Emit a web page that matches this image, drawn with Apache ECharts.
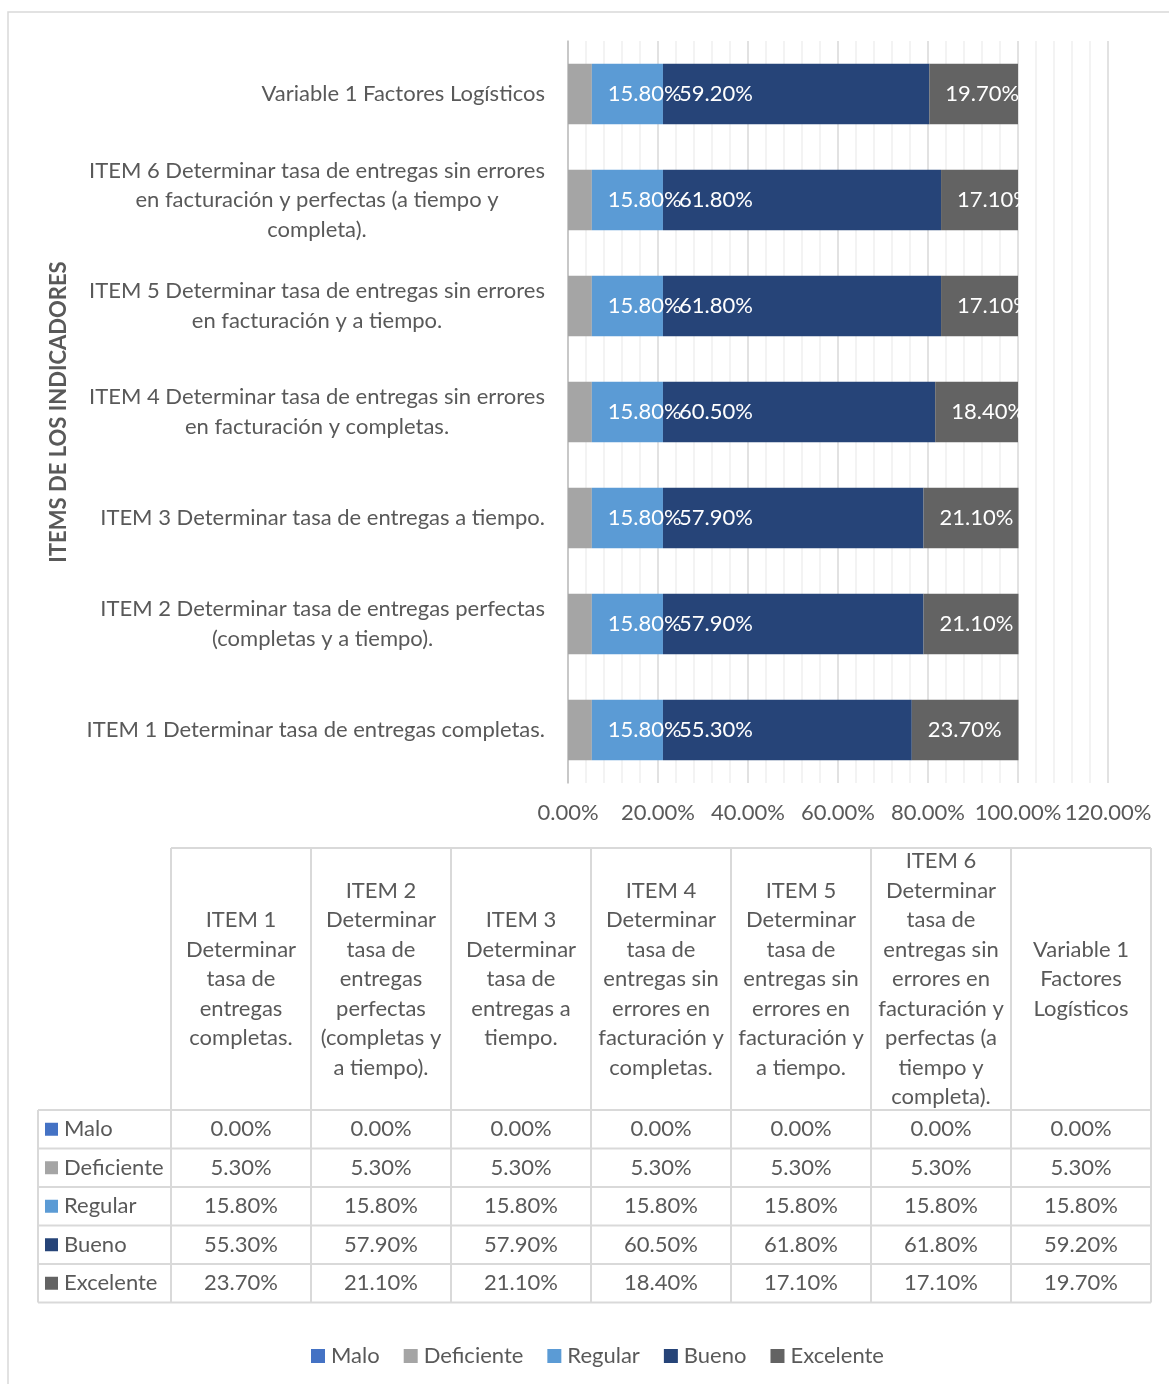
<!DOCTYPE html>
<html>
<head>
<meta charset="utf-8">
<script src="https://cdn.jsdelivr.net/npm/echarts@6/dist/echarts.min.js"></script>
<style>
  html, body { margin: 0; padding: 0; background: #fff; }
  #chart { width: 1169px; height: 1384px; }
</style>
</head>
<body>
<div id="chart"></div>
<script>
// datos (orden de Excel: ITEM 1 abajo, Variable 1 arriba)
const categories = [
  "ITEM 1 Determinar tasa de entregas completas.",
  "ITEM 2 Determinar tasa de entregas perfectas (completas y a tiempo).",
  "ITEM 3 Determinar tasa de entregas a tiempo.",
  "ITEM 4 Determinar tasa de entregas sin errores en facturación y completas.",
  "ITEM 5 Determinar tasa de entregas sin errores en facturación y a tiempo.",
  "ITEM 6 Determinar tasa de entregas sin errores en facturación y perfectas (a tiempo y completa).",
  "Variable 1 Factores Logísticos"
];
const seriesNames = ["Malo", "Deficiente", "Regular", "Bueno", "Excelente"];
const malo = [0, 0, 0, 0, 0, 0, 0];
const deficiente = [5.3, 5.3, 5.3, 5.3, 5.3, 5.3, 5.3];
const regular = [15.8, 15.8, 15.8, 15.8, 15.8, 15.8, 15.8];
const bueno = [55.3, 57.9, 57.9, 60.5, 61.8, 61.8, 59.2];
const excelente = [23.7, 21.1, 21.1, 18.4, 17.1, 17.1, 19.7];
const xTicks = [0, 20, 40, 60, 80, 100, 120];

const colors = ["#4472C4", "#A5A5A5", "#5B9BD5", "#264478", "#636363"];
const FONT = "Lato";
const FS = 22;
const TEXT = "#595959";
const LINE = "#d9d9d9";
const pct = (v) => v.toFixed(2) + "%";

// medir texto para partir lineas como Excel
const ctx = document.createElement("canvas").getContext("2d");
function textWidth(s, size) {
  ctx.font = size + "px " + FONT;
  return ctx.measureText(s).width;
}
function wrap(s, limit, size) {
  const words = s.split(" ");
  const lines = [];
  let cur = "";
  for (const w of words) {
    const t = cur ? cur + " " + w : w;
    if (cur && textWidth(t, size) > limit) {
      lines.push(cur);
      cur = w;
    } else {
      cur = t;
    }
  }
  if (cur) lines.push(cur);
  return lines;
}

const labelLimit = textWidth(categories[0], FS) + 1;
const scale = labelLimit / 463;
const axisLines = categories.map((c) => wrap(c, labelLimit, FS));
const rich = {};
axisLines.forEach((lines, i) => {
  rich["c" + i] = {
    width: Math.max(...lines.map((l) => textWidth(l, FS))),
    align: "center",
    fontSize: FS,
    lineHeight: 29.5,
    color: TEXT,
    fontFamily: FONT
  };
});

// tabla de datos
const tableLeft = 38, firstCol = 171, colW = 140;
const headTop = 848, headBottom = 1110, rowH = 38.5;
const tableRight = firstCol + colW * categories.length;
const rows = [malo, deficiente, regular, bueno, excelente];
const graphics = [];

graphics.push({
  type: "rect", silent: true, z: -1,
  shape: { x: 8, y: 12, width: 1300, height: 1500 },
  style: { fill: "none", stroke: LINE, lineWidth: 1.5 }
});

// lineas de la tabla
const tableBottom = headBottom + rowH * rows.length;
graphics.push({ type: "line", shape: { x1: firstCol, y1: headTop, x2: tableRight, y2: headTop }, style: { stroke: LINE, lineWidth: 2 } });
for (let r = 0; r <= rows.length; r++) {
  const y = headBottom + rowH * r;
  graphics.push({ type: "line", shape: { x1: tableLeft, y1: y, x2: tableRight, y2: y }, style: { stroke: LINE, lineWidth: 2 } });
}
graphics.push({ type: "line", shape: { x1: tableLeft, y1: headBottom, x2: tableLeft, y2: tableBottom }, style: { stroke: LINE, lineWidth: 2 } });
for (let c = 0; c <= categories.length; c++) {
  const x = firstCol + colW * c;
  graphics.push({ type: "line", shape: { x1: x, y1: headTop, x2: x, y2: tableBottom }, style: { stroke: LINE, lineWidth: 2 } });
}

// encabezados
categories.forEach((c, i) => {
  graphics.push({
    type: "text",
    style: {
      text: wrap(c, 130 * scale, FS).join("\n"),
      x: firstCol + colW * i + colW / 2,
      y: (headTop + headBottom) / 2,
      align: "center", verticalAlign: "middle",
      fontSize: FS, lineHeight: 29.5, fontFamily: FONT, fill: TEXT
    }
  });
});

// filas
rows.forEach((vals, r) => {
  const cy = headBottom + rowH * r + rowH / 2;
  graphics.push({
    type: "rect",
    shape: { x: 45, y: cy - 6.5, width: 13, height: 13 },
    style: { fill: colors[r] }
  });
  graphics.push({
    type: "text",
    style: {
      text: seriesNames[r], x: 64, y: cy,
      align: "left", verticalAlign: "middle",
      fontSize: FS, fontFamily: FONT, fill: TEXT
    }
  });
  vals.forEach((v, i) => {
    graphics.push({
      type: "text",
      style: {
        text: pct(v),
        x: firstCol + colW * i + colW / 2, y: cy,
        align: "center", verticalAlign: "middle",
        fontSize: FS, fontFamily: FONT, fill: TEXT
      }
    });
  });
});

// etiquetas de Excel: desde el inicio del segmento, un poco adentro
const barLabel = {
  show: true,
  position: "insideLeft",
  distance: 16,
  color: "#fff",
  fontSize: FS,
  fontFamily: FONT,
  formatter: (p) => pct(p.value)
};

const series = rows.map((vals, r) => ({
  name: seriesNames[r],
  type: "bar",
  stack: "total",
  barWidth: "57%",
  data: vals,
  itemStyle: { color: colors[r] },
  label: r >= 2 ? barLabel : { show: false }
}));

const chart = echarts.init(document.getElementById("chart"));
chart.setOption({
  animation: false,
  textStyle: { fontFamily: FONT },
  grid: { left: 568, top: 41, width: 540, height: 742, containLabel: false },
  legend: {
    data: seriesNames,
    left: 311,
    top: 1345,
    padding: 0,
    icon: "rect",
    itemWidth: 14,
    itemHeight: 14,
    itemGap: 24,
    textStyle: { color: TEXT, fontSize: FS, fontFamily: FONT, padding: [0, 0, 0, 1] }
  },
  xAxis: {
    type: "value",
    min: xTicks[0],
    max: xTicks[xTicks.length - 1],
    interval: xTicks[1] - xTicks[0],
    axisLine: { show: false },
    axisTick: { show: false },
    axisLabel: { color: TEXT, fontSize: FS, margin: 19, formatter: (v) => pct(v) },
    splitLine: { lineStyle: { color: LINE, width: 1.5 } },
    minorTick: { show: false, splitNumber: 5 },
    minorSplitLine: { show: true, lineStyle: { color: "#f0f0f0", width: 1.5 } }
  },
  yAxis: {
    type: "category",
    data: categories,
    name: "ITEMS DE LOS INDICADORES",
    nameLocation: "middle",
    nameGap: 498,
    nameRotate: 90,
    nameTextStyle: { color: TEXT, fontSize: FS, fontWeight: "bold", fontFamily: FONT },
    axisLine: { show: true, lineStyle: { color: "#bfbfbf", width: 1.5 } },
    axisTick: { show: false },
    axisLabel: {
      margin: 23,
      formatter: (v, i) => axisLines[i].map((l) => "{c" + i + "|" + l + "}").join("\n"),
      rich: rich
    }
  },
  series: series,
  graphic: graphics
});
</script>
</body>
</html>
